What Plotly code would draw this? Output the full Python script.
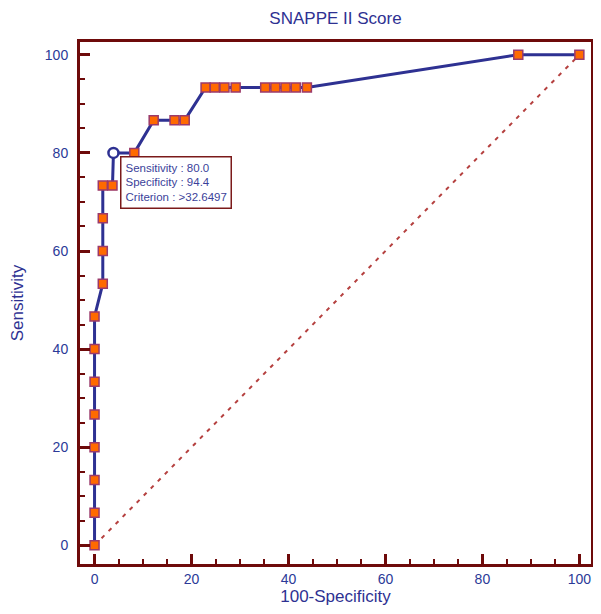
import plotly.graph_objects as go

# ROC points (100-Specificity, Sensitivity)
fpr = [0, 0, 0, 0, 0, 0, 0, 0,
       1.7, 1.7, 1.7, 1.7, 3.7,
       3.9,
       8.2, 12.2, 16.5, 18.6,
       22.9, 24.8, 26.8, 29.1, 35.2, 37.3, 39.4, 41.5, 43.8,
       87.4, 100]
tpr = [0, 6.67, 13.33, 20, 26.67, 33.33, 40, 46.67,
       53.33, 60, 66.67, 73.33, 73.33,
       80,
       80, 86.67, 86.67, 86.67,
       93.33, 93.33, 93.33, 93.33, 93.33, 93.33, 93.33, 93.33, 93.33,
       100, 100]
opt_index = 13  # optimal criterion point (open circle)

opt_sens = 80.0
opt_spec = 94.4
opt_crit = ">32.6497"

diag_x = [0, 100]
diag_y = [0, 100]

ticks_vals = [0, 20, 40, 60, 80, 100]

AXC = "#6e0a0a"
BLUE = "#2e3192"
TXT = "#2b3a98"
FONT = "Liberation Sans, Arial"

sq_x = [x for i, x in enumerate(fpr) if i != opt_index]
sq_y = [y for i, y in enumerate(tpr) if i != opt_index]

fig = go.Figure()
fig.add_trace(go.Scatter(x=diag_x, y=diag_y, mode="lines",
                         line=dict(color="#b5403f", width=2, dash="4px,6px"),
                         hoverinfo="skip", showlegend=False))
fig.add_trace(go.Scatter(x=fpr, y=tpr, mode="lines",
                         line=dict(color=BLUE, width=3),
                         showlegend=False))
fig.add_trace(go.Scatter(x=sq_x, y=sq_y, mode="markers",
                         marker=dict(symbol="square", size=9, color="#ff6a00",
                                     line=dict(color="#9b3a6b", width=1.5)),
                         showlegend=False))
fig.add_trace(go.Scatter(x=[fpr[opt_index]], y=[tpr[opt_index]], mode="markers",
                         marker=dict(symbol="circle", size=10, color="white",
                                     line=dict(color=BLUE, width=2.5)),
                         showlegend=False))

fig.add_annotation(x=5.2, y=79.4, xref="x", yref="y", xanchor="left", yanchor="top",
                   text=f"Sensitivity : {opt_sens:.1f}<br>Specificity : {opt_spec:.1f}<br>Criterion : {opt_crit}",
                   showarrow=False, align="left",
                   font=dict(family=FONT, size=11.5, color="#3b3f9a"),
                   bordercolor="#7b1a1a", borderwidth=1.5, borderpad=4, bgcolor="white")

axis_common = dict(
    showgrid=False, zeroline=False, automargin=False,
    showline=True, linecolor=AXC, linewidth=3, mirror=True,
    ticks="inside", ticklen=10, tickwidth=3, tickcolor=AXC,
    tickvals=ticks_vals, ticklabeloverflow="allow",
    tickfont=dict(family=FONT, size=14, color=TXT),
    minor=dict(dtick=5, ticks="inside", ticklen=5, tickwidth=2, tickcolor=AXC),
)

fig.update_layout(
    width=585, height=598,
    margin=dict(l=72, r=2, t=34, b=42),
    paper_bgcolor="white", plot_bgcolor="white",
    title=dict(text="SNAPPE II Score", xref="paper", x=0.5, xanchor="center",
               y=0.983, yanchor="middle",
               font=dict(family=FONT, size=17, color=BLUE)),
    xaxis=dict(range=[-3, 102.4],
               title=dict(text="100-Specificity", standoff=8,
                          font=dict(family=FONT, size=17, color=BLUE)),
               **axis_common),
    yaxis=dict(range=[-3.8, 102.6], ticklabelstandoff=6,
               title=dict(text="Sensitivity", standoff=26,
                          font=dict(family=FONT, size=17, color=BLUE)),
               **axis_common),
)

fig.write_html("out.html")
